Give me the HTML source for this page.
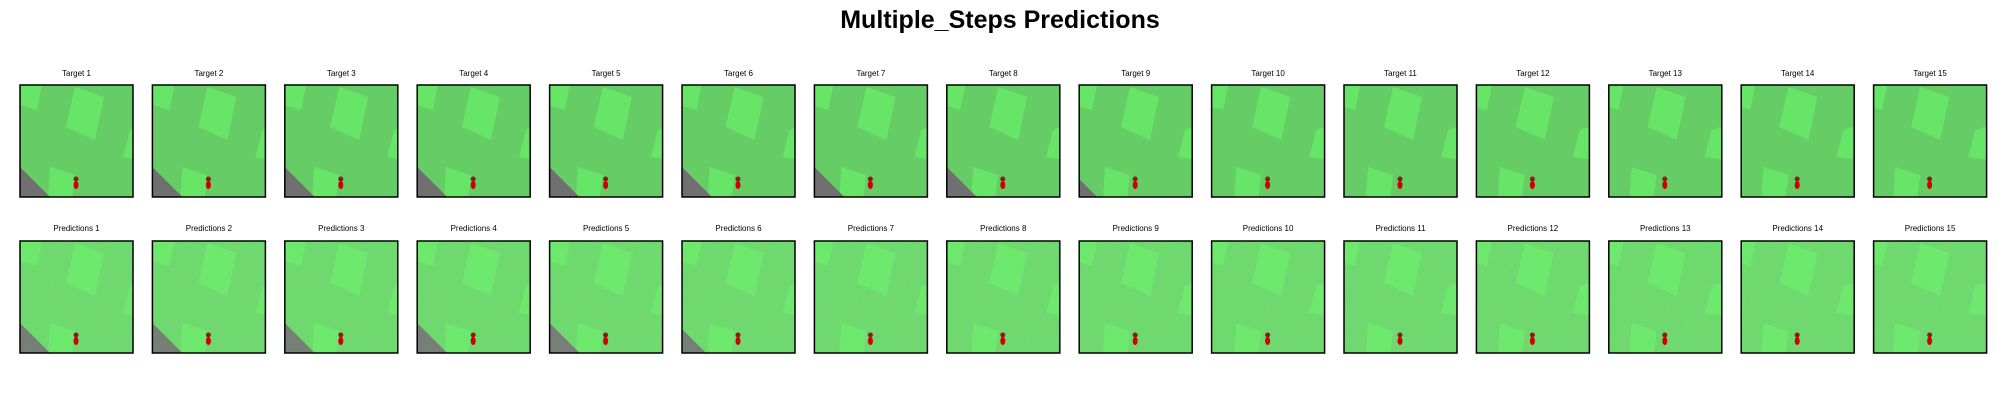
<!DOCTYPE html>
<html><head><meta charset="utf-8">
<style>
body{margin:0;width:2000px;height:400px;background:#fff;overflow:hidden;font-family:"Liberation Sans","DejaVu Sans",sans-serif;position:relative}
#title{position:absolute;left:0;width:2000px;top:6px;text-align:center;font-weight:bold;font-size:25px;color:#000}
</style></head><body>
<div id="title">Multiple_Steps Predictions</div>
<svg id="s" width="2000" height="400" style="position:absolute;left:0;top:0">
<defs>
<filter id="noise" x="0" y="0" width="100%" height="100%">
<feTurbulence type="fractalNoise" baseFrequency="0.9" numOctaves="1" seed="3" result="n"/>
<feColorMatrix in="n" type="matrix" values="0 0 0 0 0.35  0 0 0 0 0.85  0 0 0 0 0.35  0 0 0 0.25 0"/>
</filter>
</defs>
</svg>
<script>
const panelCount = 15;
const cornerGray = [1,1,1,1,1,1,1,1,0.6,0,0,0,0,0,0];
const predGray = [1,1,1,1,1,0.8,0,0,0,0,0,0,0,0,0];
const shiftX = [0,0,1,2,3,4,5,6,7,9,10,11,12,13,14];
const svg = document.getElementById('s');
const NS='http://www.w3.org/2000/svg';
function el(t,a,p){const e=document.createElementNS(NS,t);for(const k in a)e.setAttribute(k,a[k]);(p||svg).appendChild(e);return e;}
for(let r=0;r<2;r++){
 for(let i=0;i<panelCount;i++){
  const x=20+i*132.4, y=r?241:85, w=113, h=112;
  const g=el('g',{});
  
  
  const cid='c'+r+'_'+i;
  const cp=el('clipPath',{id:cid},g); el('rect',{x:x,y:y,width:w,height:h},cp);
  const inner=el('g',{'clip-path':`url(#${cid})`},g);
  const base=r?'#68d668':'#66cc66', lite=r?'#66e866':'#66e566';
  el('rect',{x:x,y:y,width:w,height:h,fill:base},inner);
  const sx=-shiftX[i]*0.6;
  el('polygon',{points:`${x+sx},${y} ${x+22+sx},${y} ${x+17+sx},${y+25} ${x+sx},${y+20}`,fill:lite},inner);
  el('polygon',{points:`${x+55+sx},${y+2} ${x+84+sx},${y+12} ${x+75+sx},${y+55} ${x+46+sx},${y+42}`,fill:lite},inner);
  el('polygon',{points:`${x+110+sx},${y+45} ${x+w+5},${y+40} ${x+w+5},${y+75} ${x+103+sx},${y+72}`,fill:lite},inner);
  el('polygon',{points:`${x+30+sx},${y+82} ${x+55+sx},${y+90} ${x+52+sx},${y+h+2} ${x+28+sx},${y+h+2}`,fill:lite},inner);
  const c=r?predGray[i]:cornerGray[i];
  if(c>0){
   el('polygon',{points:`${x},${y+h-30*c} ${x+30*c},${y+h} ${x},${y+h}`,fill:'#707070'},inner);}
  if(r) el('rect',{x:x,y:y,width:w,height:h,filter:'url(#noise)'},inner);
  const cx=x+56, cy=y+h-15;
  el('ellipse',{cx:cx,cy:cy-3,rx:2.5,ry:2.5,fill:'#8b1a1a'},inner);
  el('ellipse',{cx:cx,cy:cy+3,rx:2.5,ry:4,fill:'#cc0000'},inner);
  el('rect',{x:x,y:y,width:w,height:h,fill:'none',stroke:'#000','stroke-width':1.5},g);
  const t=el('text',{x:x+w/2,y:r?231:76,'text-anchor':'middle','font-size':'8','fill':'#000','font-family':'Liberation Sans, DejaVu Sans, sans-serif'},g);
  t.textContent=(r?'Predictions ':'Target ')+(i+1);
  
  
 }
}
</script>
</body></html>
